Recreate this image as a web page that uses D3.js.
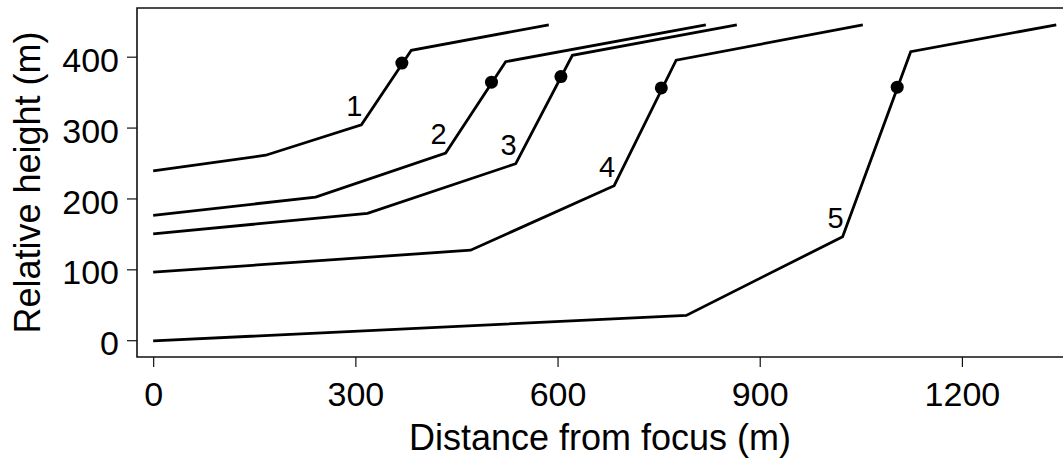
<!DOCTYPE html>
<html>
<head>
<meta charset="utf-8">
<script src="https://cdn.jsdelivr.net/npm/d3@7"></script>
<style>
    html, body { margin: 0; padding: 0; background: #fff; }
    #chart { width: 1063px; height: 460px; }
</style>
</head>
<body>
<div id="chart"></div>
<script>
// profile lines, one entry per transect (distance m, relative height m)
const profileNames = ["1", "2", "3", "4", "5"];
const profileDist = [
    [0, 167, 309, 383, 587],
    [0, 241, 434, 523, 820],
    [0, 318, 538, 622, 866],
    [0, 471, 684, 776, 1053],
    [0, 791, 1023, 1124, 1340]
];
const profileHeight = [
    [239, 261, 304, 409, 445],
    [176, 202, 264, 393, 445],
    [150, 179, 249, 402, 445],
    [96, 127, 218, 395, 445],
    [-1, 35, 146, 407, 445]
];
// marked point on each profile
const markDist = [369, 502, 605, 754, 1104];
const markHeight = [391, 364, 372, 356, 357];

const xTicks = [0, 300, 600, 900, 1200];
const yTicks = [0, 100, 200, 300, 400];

class ProfileChart {
    constructor(container, options = {}) {
        const defaults = {
            width: 1063,
            height: 460,
            margin: { top: 8, right: 0, bottom: 103, left: 137 },
            xDomain: [-24, 1350],
            yDomain: [-23.7, 468.7],
            labelVertex: 2
        };
        this.options = { ...defaults, ...options };
        this.container = container;
    }

    render() {
        const o = this.options;
        const m = o.margin;
        const innerW = o.width - m.left - m.right;
        const innerH = o.height - m.top - m.bottom;

        d3.select(this.container).select("svg").remove();

        const svg = d3.select(this.container).append("svg")
            .attr("width", o.width)
            .attr("height", o.height)
            .style("font-family", "'Liberation Sans', Arial, sans-serif");

        const x = d3.scaleLinear().domain(o.xDomain).range([m.left, m.left + innerW]);
        const y = d3.scaleLinear().domain(o.yDomain).range([m.top + innerH, m.top]);

        // frame (top, left, bottom)
        const bottom = m.top + innerH;
        svg.append("path")
            .attr("d", `M${m.left + innerW},${m.top}H${m.left}V${bottom}H${m.left + innerW}`)
            .attr("fill", "none")
            .attr("stroke", "#111")
            .attr("stroke-width", 1.6);

        // axes
        const xAxis = svg.append("g")
            .attr("transform", `translate(0,${bottom})`)
            .call(d3.axisBottom(x).tickValues(xTicks).tickFormat(d3.format("d"))
                .tickSize(10).tickPadding(15).tickSizeOuter(0));
        xAxis.select(".domain").remove();
        xAxis.selectAll("text").attr("font-size", 34).attr("fill", "#000");

        const yAxis = svg.append("g")
            .attr("transform", `translate(${m.left},0)`)
            .call(d3.axisLeft(y).tickValues(yTicks).tickFormat(d3.format("d"))
                .tickSize(10).tickPadding(8).tickSizeOuter(0));
        yAxis.select(".domain").remove();
        yAxis.selectAll("text").attr("font-size", 34).attr("fill", "#000").attr("dy", "0.43em");
        svg.selectAll(".tick line").attr("stroke", "#111").attr("stroke-width", 1.2);

        // axis titles
        svg.append("text")
            .attr("x", m.left + innerW / 2)
            .attr("y", 450)
            .attr("text-anchor", "middle")
            .attr("font-size", 36)
            .text("Distance from focus (m)");

        svg.append("text")
            .attr("transform", `translate(40,${m.top + innerH / 2}) rotate(-90)`)
            .attr("text-anchor", "middle")
            .attr("font-size", 36)
            .text("Relative height (m)");

        const profiles = profileNames.map((name, i) => ({
            name,
            points: profileDist[i].map((d, j) => [d, profileHeight[i][j]]),
            mark: [markDist[i], markHeight[i]]
        }));

        const line = d3.line().x(d => x(d[0])).y(d => y(d[1]));

        const g = svg.append("g");

        g.selectAll(".profile")
            .data(profiles)
            .enter().append("path")
            .attr("class", "profile")
            .attr("fill", "none")
            .attr("stroke", "#000")
            .attr("stroke-width", 2.8)
            .attr("stroke-linejoin", "miter")
            .attr("d", d => line(d.points));

        g.selectAll(".mark")
            .data(profiles)
            .enter().append("circle")
            .attr("class", "mark")
            .attr("r", 6.5)
            .attr("fill", "#000")
            .attr("cx", d => x(d.mark[0]))
            .attr("cy", d => y(d.mark[1]));

        g.selectAll(".plabel")
            .data(profiles)
            .enter().append("text")
            .attr("class", "plabel")
            .attr("text-anchor", "end")
            .attr("font-size", 29)
            .attr("x", d => x(d.points[o.labelVertex][0]) + 1)
            .attr("y", d => y(d.points[o.labelVertex][1]) - 9)
            .text(d => d.name);
    }
}

new ProfileChart(document.getElementById("chart")).render();
</script>
</body>
</html>
